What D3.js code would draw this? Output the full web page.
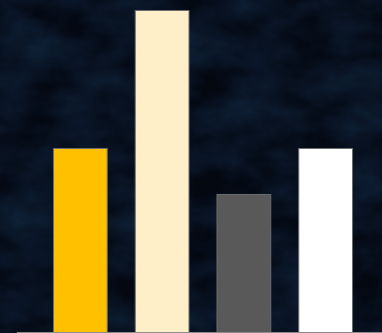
<!DOCTYPE html>
<html>
<head>
<meta charset="utf-8">
<script src="https://cdn.jsdelivr.net/npm/d3@7"></script>
<style>
  html, body { margin: 0; padding: 0; background: #050c1a; }
  svg { display: block; }
</style>
</head>
<body>
<svg id="chart" width="382" height="333"></svg>
<script>
// categories and values
const categories = ["A", "B", "C", "D"];
const values = [4, 7, 3, 4];
const barColors = ["#FFC000", "#FFEFC8", "#595959", "#FFFFFF"];

const svg = d3.select("#chart"),
    width = +svg.attr("width"),
    height = +svg.attr("height");

// dark rock-like background
const defs = svg.append("defs");
const filt = defs.append("filter").attr("id", "rock")
    .attr("x", 0).attr("y", 0).attr("width", "100%").attr("height", "100%");
filt.append("feTurbulence")
    .attr("type", "fractalNoise")
    .attr("baseFrequency", "0.018 0.03")
    .attr("numOctaves", 4)
    .attr("seed", 3)
    .attr("result", "noise");
filt.append("feColorMatrix")
    .attr("in", "noise")
    .attr("type", "matrix")
    .attr("values", "0 0 0 0 0.02  0 0 0 0 0.08  0 0 0 0 0.22  0.9 0 0 0 -0.2");

svg.append("rect").attr("width", width).attr("height", height).attr("fill", "#030811");
svg.append("rect").attr("width", width).attr("height", height)
    .attr("filter", "url(#rock)").attr("opacity", 0.55);

const x = d3.scaleBand()
    .domain(categories)
    .range([17, 389])
    .paddingInner(0.33)
    .paddingOuter(0.44);

const y = d3.scaleLinear()
    .domain([0, 7])
    .range([332, 10]);

svg.append("g")
    .selectAll("rect")
    .data(values)
    .enter().append("rect")
    .attr("x", (d, i) => x(categories[i]) + 0.5)
    .attr("y", d => y(d) + 0.5)
    .attr("width", x.bandwidth() - 1)
    .attr("height", d => y(0) - y(d))
    .attr("fill", (d, i) => barColors[i])
    .attr("stroke", "#6b6b6b")
    .attr("stroke-width", 1);

// baseline
svg.append("line")
    .attr("x1", 17).attr("x2", width)
    .attr("y1", y(0) + 0.5).attr("y2", y(0) + 0.5)
    .attr("stroke", "#8c8c8c")
    .attr("stroke-width", 1);
</script>
</body>
</html>
